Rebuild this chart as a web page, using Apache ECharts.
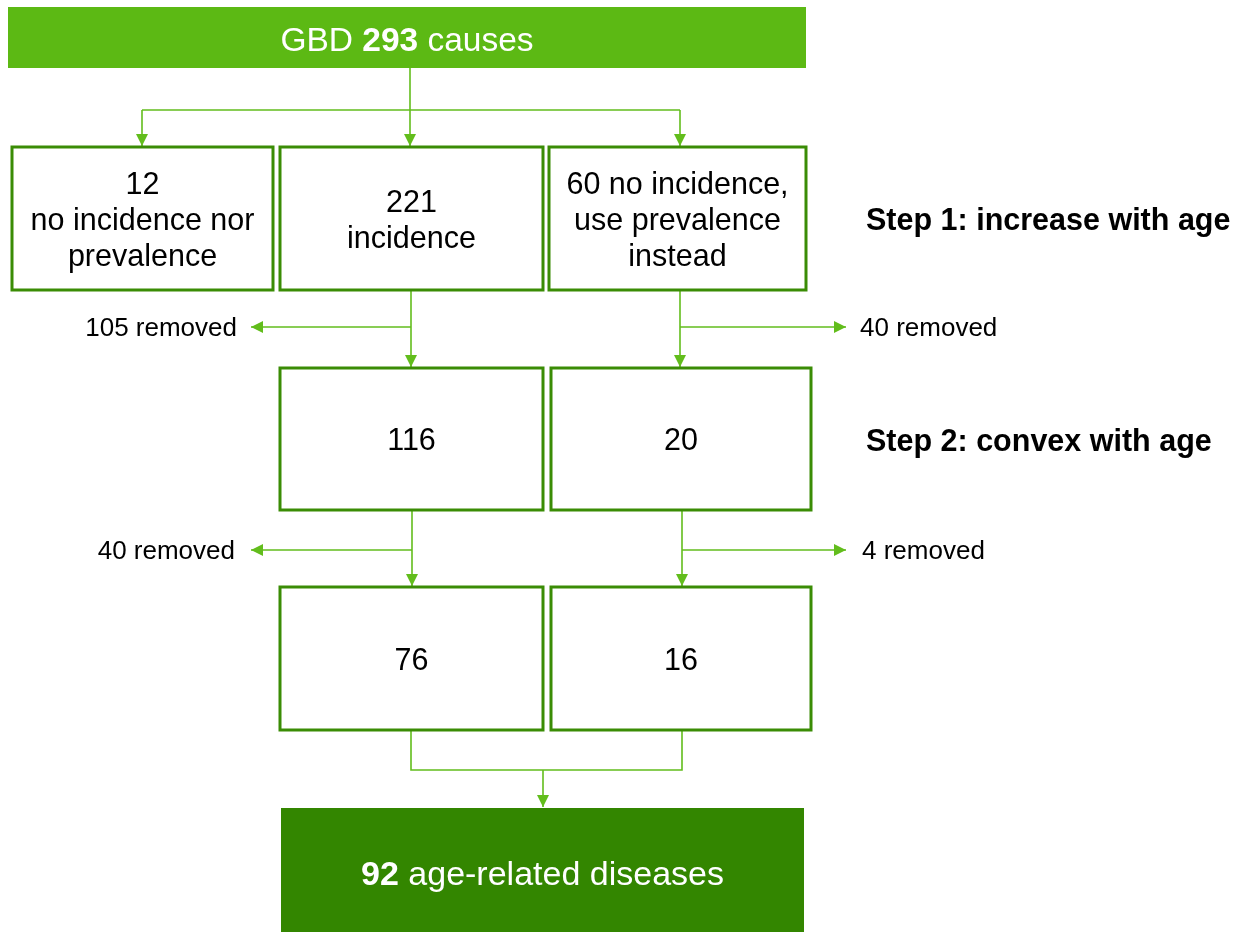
<!DOCTYPE html>
<html>
<head>
<meta charset="utf-8">
<script src="https://cdn.jsdelivr.net/npm/echarts@6/dist/echarts.min.js"></script>
<style>
  html, body { margin: 0; padding: 0; background: #fff; }
  #chart { width: 1242px; height: 932px; }
</style>
</head>
<body>
<div id="chart"></div>
<script>
// flow counts
var totalCauses = 293;
var step1Counts = [12, 221, 60];
var step1Notes = ['no incidence nor\nprevalence', 'incidence', 'no incidence,\nuse prevalence\ninstead'];
var step1Removed = [105, 40];
var step2Counts = [116, 20];
var step2Removed = [40, 4];
var finalCounts = [76, 16];
var ageRelated = 92;
var stepLabels = ['Step 1: increase with age', 'Step 2: convex with age'];

var LIGHT = '#5cb914',
    DARK = '#338600',
    BORDER = '#3a8c05',
    LINE = '#62bd1c',
    FONT = '"Liberation Sans", Arial, sans-serif';

// box placement in page px: x0, y0, x1, y1
var boxLayout = [
    [8, 7, 806, 68],
    [12, 147, 273, 290], [280, 147, 543, 290], [549, 147, 806, 290],
    [280, 368, 543, 510], [551, 368, 811, 510],
    [280, 587, 543, 730], [551, 587, 811, 730],
    [281, 808, 804, 932]
];
var boxStyle = ['fill-light', 'open', 'open', 'open', 'open', 'open', 'open', 'open', 'fill-dark'];

var boxText = [
    '{n|GBD }{b|' + totalCauses + '}{n| causes}',
    step1Counts[0] + '\n' + step1Notes[0],
    step1Counts[1] + '\n' + step1Notes[1],
    step1Counts[2] + ' ' + step1Notes[2],
    String(step2Counts[0]), String(step2Counts[1]),
    String(finalCounts[0]), String(finalCounts[1]),
    '{b|' + ageRelated + '}{n| age-related diseases}'
];

// connectors, page px
var linkLayout = [
    {pts: [[410, 68], [410, 110]]},
    {pts: [[142, 110], [680, 110]]},
    {pts: [[142, 110], [142, 146]], arrow: true},
    {pts: [[410, 110], [410, 146]], arrow: true},
    {pts: [[680, 110], [680, 146]], arrow: true},
    {pts: [[411, 290], [411, 367]], arrow: true},
    {pts: [[411, 327], [251, 327]], arrow: true},
    {pts: [[680, 290], [680, 367]], arrow: true},
    {pts: [[680, 327], [846, 327]], arrow: true},
    {pts: [[412, 510], [412, 586]], arrow: true},
    {pts: [[412, 550], [251, 550]], arrow: true},
    {pts: [[682, 510], [682, 586]], arrow: true},
    {pts: [[682, 550], [846, 550]], arrow: true},
    {pts: [[411, 730], [411, 770], [682, 770], [682, 730]]},
    {pts: [[543, 770], [543, 807]], arrow: true}
];

var sideText = [
    step1Removed[0] + ' removed', step1Removed[1] + ' removed',
    step2Removed[0] + ' removed', step2Removed[1] + ' removed',
    stepLabels[0], stepLabels[1]
];
var sideLayout = [
    {x: 237, y: 329, align: 'right'}, {x: 860, y: 329, align: 'left'},
    {x: 235, y: 552, align: 'right'}, {x: 862, y: 552, align: 'left'},
    {x: 866, y: 222, align: 'left', bold: true}, {x: 866, y: 443, align: 'left', bold: true}
];

function renderBox(params, api) {
    var i = params.dataIndex;
    var p0 = api.coord([api.value(0), api.value(1)]);
    var p1 = api.coord([api.value(2), api.value(3)]);
    var kind = boxStyle[i];
    var filled = kind !== 'open';
    var rect = {
        type: 'rect',
        shape: {x: p0[0], y: p0[1], width: p1[0] - p0[0], height: p1[1] - p0[1]},
        style: filled
            ? {fill: kind === 'fill-light' ? LIGHT : DARK}
            : {fill: '#fff', stroke: BORDER, lineWidth: 3}
    };
    var size = i === 0 ? 33.5 : (i === 8 ? 34 : 30.5);
    var text = {
        type: 'text',
        x: (p0[0] + p1[0]) / 2,
        y: (p0[1] + p1[1]) / 2 + (i === 0 ? 4 : (i === 8 ? 6 : 3)),
        style: {
            text: boxText[i],
            fill: filled ? '#fff' : '#000',
            font: size + 'px ' + FONT,
            align: 'center',
            verticalAlign: 'middle',
            lineHeight: 36,
            rich: {
                n: {font: size + 'px ' + FONT, fill: '#fff'},
                b: {font: 'bold ' + size + 'px ' + FONT, fill: '#fff'}
            }
        }
    };
    return {type: 'group', children: [rect, text]};
}

function renderLink(params, api) {
    var link = linkLayout[params.dataIndex];
    var pts = link.pts.map(function (p) { return api.coord(p); });
    var children = [{
        type: 'polyline',
        shape: {points: pts},
        style: {stroke: LINE, lineWidth: 1.6, fill: null}
    }];
    if (link.arrow) {
        var a = pts[pts.length - 2], b = pts[pts.length - 1];
        var dx = b[0] - a[0], dy = b[1] - a[1];
        var len = Math.sqrt(dx * dx + dy * dy);
        var ux = dx / len, uy = dy / len, L = 12, W = 6;
        children.push({
            type: 'polygon',
            shape: {points: [
                b,
                [b[0] - ux * L - uy * W, b[1] - uy * L + ux * W],
                [b[0] - ux * L + uy * W, b[1] - uy * L - ux * W]
            ]},
            style: {fill: LINE}
        });
    }
    return {type: 'group', children: children};
}

function renderSide(params, api) {
    var i = params.dataIndex, lay = sideLayout[i];
    var p = api.coord([api.value(0), api.value(1)]);
    return {
        type: 'text',
        x: p[0], y: p[1],
        style: {
            text: sideText[i],
            fill: '#000',
            font: (lay.bold ? 'bold 30.5px ' : '26px ') + FONT,
            align: lay.align,
            verticalAlign: 'middle'
        }
    };
}

var chart = echarts.init(document.getElementById('chart'));
chart.setOption({
    backgroundColor: '#fff',
    animation: false,
    grid: {left: 0, right: 0, top: 0, bottom: 0},
    xAxis: {type: 'value', min: 0, max: 1242, show: false},
    yAxis: {type: 'value', min: 0, max: 932, inverse: true, show: false},
    series: [{
        type: 'custom',
        clip: false,
        renderItem: renderLink,
        encode: {x: 0, y: 1},
        data: linkLayout.map(function (l) { return l.pts[0]; })
    }, {
        type: 'custom',
        clip: false,
        renderItem: renderBox,
        encode: {x: [0, 2], y: [1, 3]},
        data: boxLayout
    }, {
        type: 'custom',
        clip: false,
        renderItem: renderSide,
        encode: {x: 0, y: 1},
        data: sideLayout.map(function (s) { return [s.x, s.y]; })
    }]
});
</script>
</body>
</html>
